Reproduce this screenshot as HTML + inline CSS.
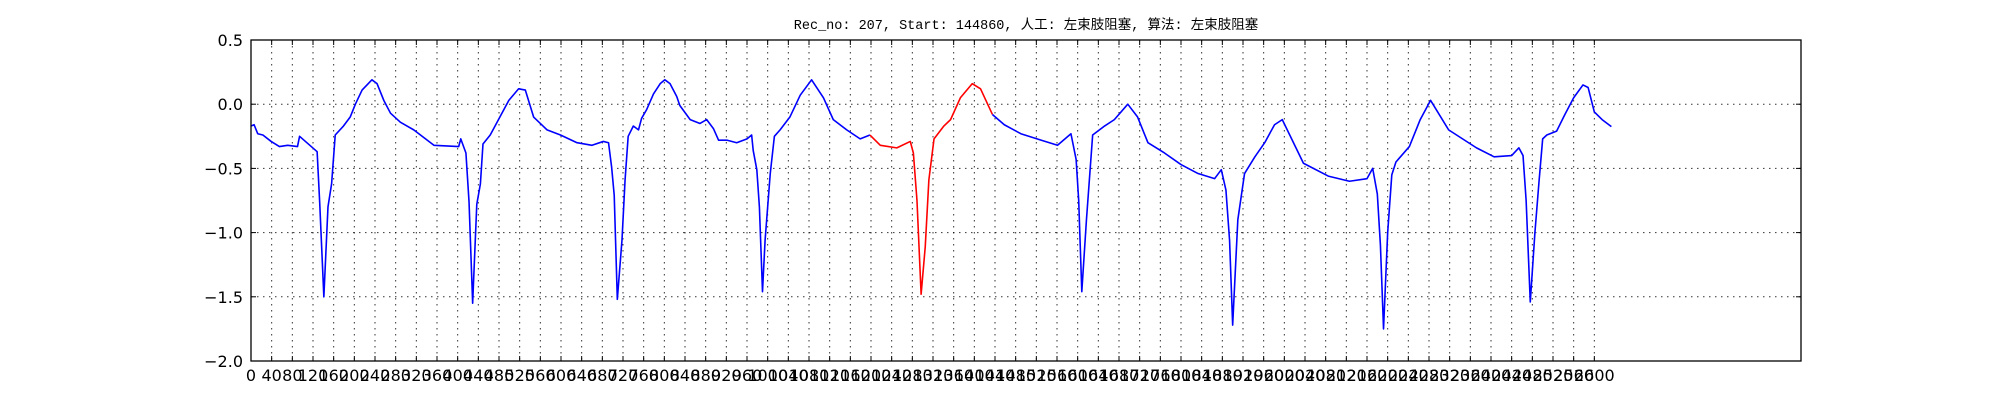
<!DOCTYPE html>
<html><head><meta charset="utf-8">
<style>
html,body{margin:0;padding:0;background:#fff;}
svg{display:block;}
</style></head>
<body>
<svg id="chart" width="2000" height="400" xmlns="http://www.w3.org/2000/svg">
<rect width="2000" height="400" fill="#fff"/>
<text x="1026" y="29" text-anchor="middle" font-family="'Liberation Mono','Noto Sans CJK SC',monospace" font-size="13.5" fill="#000">Rec_no: 207, Start: 144860, 人工: 左束肢阻塞, 算法: 左束肢阻塞</text>
<g id="grid"></g>
<g id="ticks"></g>
<g id="series"></g>
<rect x="251" y="40" width="1550" height="321" fill="none" stroke="#000" stroke-width="1.3"/>
</svg>
<script>
const sampleIdx = [0,6,13,23,39,55,71,90,94,128,133,141,149,156,163,179,192,202,215,234,244,257,270,289,315,341,354,402,406,416,422,429,437,444,449,463,483,499,518,531,547,573,599,631,660,682,692,698,703,709,718,724,730,740,750,756,766,779,792,801,811,824,830,850,869,882,895,905,921,940,960,969,972,979,984,990,995,1005,1013,1024,1043,1063,1085,1108,1127,1153,1179,1198,1218,1250,1276,1282,1289,1297,1305,1312,1322,1341,1354,1373,1396,1412,1435,1458,1490,1529,1561,1587,1597,1602,1608,1617,1629,1652,1671,1697,1716,1736,1768,1800,1833,1865,1878,1887,1894,1900,1910,1923,1943,1962,1981,1996,2037,2085,2126,2160,2171,2180,2186,2192,2200,2208,2216,2242,2263,2283,2318,2345,2372,2406,2440,2454,2462,2468,2476,2485,2493,2500,2508,2527,2543,2560,2578,2588,2600,2615,2633];
const amplitude = [-0.17,-0.16,-0.23,-0.24,-0.29,-0.33,-0.32,-0.33,-0.25,-0.37,-0.77,-1.50,-0.80,-0.62,-0.24,-0.17,-0.10,0.00,0.11,0.19,0.16,0.03,-0.07,-0.14,-0.20,-0.28,-0.32,-0.33,-0.27,-0.38,-0.76,-1.55,-0.78,-0.62,-0.31,-0.24,-0.09,0.03,0.12,0.11,-0.10,-0.20,-0.24,-0.30,-0.32,-0.29,-0.30,-0.49,-0.71,-1.52,-1.06,-0.59,-0.25,-0.17,-0.20,-0.11,-0.04,0.08,0.16,0.19,0.16,0.06,-0.01,-0.12,-0.15,-0.12,-0.19,-0.28,-0.28,-0.30,-0.27,-0.24,-0.36,-0.51,-0.80,-1.46,-1.06,-0.54,-0.25,-0.20,-0.10,0.07,0.19,0.05,-0.12,-0.20,-0.27,-0.24,-0.32,-0.34,-0.29,-0.38,-0.75,-1.48,-1.11,-0.59,-0.27,-0.17,-0.12,0.05,0.16,0.12,-0.08,-0.16,-0.23,-0.28,-0.32,-0.23,-0.43,-0.75,-1.46,-0.90,-0.24,-0.17,-0.12,0.00,-0.10,-0.30,-0.38,-0.47,-0.54,-0.58,-0.51,-0.67,-1.06,-1.72,-0.90,-0.54,-0.41,-0.30,-0.16,-0.12,-0.46,-0.56,-0.60,-0.58,-0.50,-0.70,-1.10,-1.75,-1.00,-0.55,-0.45,-0.33,-0.12,0.03,-0.20,-0.27,-0.34,-0.41,-0.40,-0.34,-0.40,-0.75,-1.54,-1.00,-0.60,-0.27,-0.24,-0.21,-0.08,0.05,0.15,0.13,-0.06,-0.12,-0.175];
const highlightRange = [1198, 1435];
const yTickValues = [0.5, 0.0, -0.5, -1.0, -1.5, -2.0];
const yTickLabels = ["0.5","0.0","\u22120.5","\u22121.0","\u22121.5","\u22122.0"];
const xTickStep = 40;
const xTickMax = 2600;

const L=251,R=1801,T=40,B=361, XMAX=3000, YMIN=-2.0, YMAX=0.5;
const NS="http://www.w3.org/2000/svg";
function xs(v){return L+(v/XMAX)*(R-L);}
function ys(v){return T+(YMAX-v)/(YMAX-YMIN)*(B-T);}
function mk(tag,attrs,parent){const e=document.createElementNS(NS,tag);for(const k in attrs)e.setAttribute(k,attrs[k]);parent.appendChild(e);return e;}
const grid=document.getElementById('grid'), ticks=document.getElementById('ticks'), series=document.getElementById('series');

for(let i=0;i<yTickValues.length;i++){
  const y=ys(yTickValues[i]);
  if(i>0 && i<yTickValues.length-1){
    const g=mk('line',{x1:L,x2:R,y1:y,y2:y,stroke:'#000','stroke-width':1,'stroke-dasharray':'1.5,4.5',opacity:0.8},grid);
    
    
  }
  mk('line',{x1:L,x2:L+5,y1:y,y2:y,stroke:'#000'},ticks);
  mk('line',{x1:R-5,x2:R,y1:y,y2:y,stroke:'#000'},ticks);
  const t=mk('text',{x:243,y:y+6,'text-anchor':'end','font-family':"'DejaVu Sans','Liberation Sans',sans-serif",'font-size':16,fill:'#000'},ticks);
  t.textContent=yTickLabels[i];
  
  
}
for(let v=0; v<=xTickMax; v+=xTickStep){
  const x=xs(v);
  if(v>0){
    const g=mk('line',{x1:x,x2:x,y1:T,y2:B,stroke:'#000','stroke-width':1,'stroke-dasharray':'1.5,4.5',opacity:0.8},grid);
    
    
  }
  mk('line',{x1:x,x2:x,y1:B-5,y2:B,stroke:'#000'},ticks);
  mk('line',{x1:x,x2:x,y1:T,y2:T+5,stroke:'#000'},ticks);
  const t=mk('text',{x:x,y:381,'text-anchor':'middle','font-family':"'DejaVu Sans','Liberation Sans',sans-serif",'font-size':16,fill:'#000'},ticks);
  t.textContent=String(v);
  
  
}
function seg(pts,color,name){
  const p=mk('polyline',{points:pts.map(q=>xs(q[0]).toFixed(2)+','+ys(q[1]).toFixed(2)).join(' '),fill:'none',stroke:color,'stroke-width':1.6,'stroke-linejoin':'round'},series);
  
  
}
const before=[],mid=[],after=[];
for(let i=0;i<sampleIdx.length;i++){
  const s=sampleIdx[i],v=amplitude[i];
  if(s<=highlightRange[0]) before.push([s,v]);
  if(s>=highlightRange[0]&&s<=highlightRange[1]) mid.push([s,v]);
  if(s>=highlightRange[1]) after.push([s,v]);
}
seg(before,'#0000ff','ecg-trace-before');
seg(mid,'#ff0000','ecg-trace-highlight');
seg(after,'#0000ff','ecg-trace-after');
</script>
</body></html>
